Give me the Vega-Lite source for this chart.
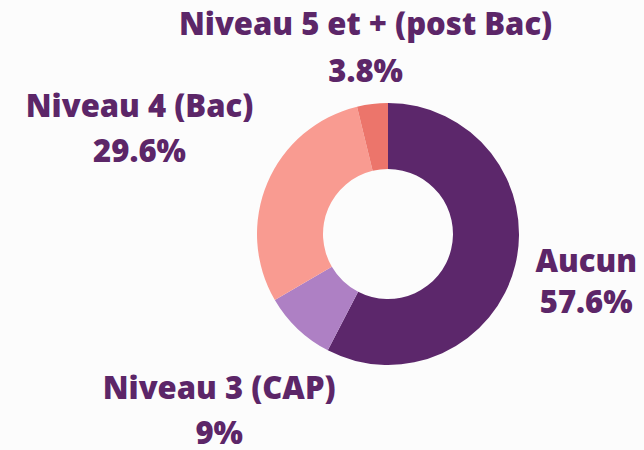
{
  "$schema": "https://vega.github.io/schema/vega-lite/v6.json",
  "autosize": {"type": "none"},
  "width": 512,
  "height": 432,
  "padding": {"left": 132, "top": 18, "right": 0, "bottom": 0},
  "background": "#fcfcfc",
  "config": {"view": {"stroke": null}, "text": {"font": "Open Sans", "fontWeight": 800, "fontSize": 31, "color": "#5c2668", "baseline": "middle"}},
  "data": {
    "values": [
      {"categorie": "Aucun", "pct": 0.576, "ordre": 1},
      {"categorie": "Niveau 3 (CAP)", "pct": 0.09, "ordre": 2},
      {"categorie": "Niveau 4 (Bac)", "pct": 0.296, "ordre": 3},
      {"categorie": "Niveau 5 et + (post Bac)", "pct": 0.038, "ordre": 4}
    ]
  },
  "encoding": {
    "theta": {"field": "pct", "type": "quantitative", "stack": true},
    "order": {"field": "ordre", "type": "quantitative"}
  },
  "layer": [
    {
      "mark": {"type": "arc", "radius": 131, "radius2": 65},
      "encoding": {
        "color": {
          "field": "categorie",
          "type": "nominal",
          "legend": null,
          "scale": {
            "domain": ["Aucun", "Niveau 3 (CAP)", "Niveau 4 (Bac)", "Niveau 5 et + (post Bac)"],
            "range": ["#5c276b", "#ae80c4", "#f99b91", "#ec756b"]
          }
        }
      }
    },
    {
      "mark": {"type": "text", "radius": 204, "dy": -19},
      "encoding": {"text": {"condition": {"test": "datum.categorie === 'Aucun'", "field": "categorie"}, "value": ""}}
    },
    {
      "mark": {"type": "text", "radius": 204, "dy": 22},
      "encoding": {"text": {"condition": {"test": "datum.categorie === 'Aucun'", "field": "pct", "type": "quantitative", "format": ".1~%"}, "value": ""}}
    },
    {
      "mark": {"type": "text", "radius": 245, "dy": -22},
      "encoding": {"text": {"condition": {"test": "datum.categorie === 'Niveau 3 (CAP)'", "field": "categorie"}, "value": ""}}
    },
    {
      "mark": {"type": "text", "radius": 245, "dy": 23.5},
      "encoding": {"text": {"condition": {"test": "datum.categorie === 'Niveau 3 (CAP)'", "field": "pct", "type": "quantitative", "format": ".1~%"}, "value": ""}}
    },
    {
      "mark": {"type": "text", "radius": 270, "dy": -20.5},
      "encoding": {"text": {"condition": {"test": "datum.categorie === 'Niveau 4 (Bac)'", "field": "categorie"}, "value": ""}}
    },
    {
      "mark": {"type": "text", "radius": 270, "dy": 24.5},
      "encoding": {"text": {"condition": {"test": "datum.categorie === 'Niveau 4 (Bac)'", "field": "pct", "type": "quantitative", "format": ".1~%"}, "value": ""}}
    },
    {
      "mark": {"type": "text", "radius": 188, "dy": -21.5},
      "encoding": {"text": {"condition": {"test": "datum.categorie === 'Niveau 5 et + (post Bac)'", "field": "categorie"}, "value": ""}}
    },
    {
      "mark": {"type": "text", "radius": 188, "dy": 25.5},
      "encoding": {"text": {"condition": {"test": "datum.categorie === 'Niveau 5 et + (post Bac)'", "field": "pct", "type": "quantitative", "format": ".1~%"}, "value": ""}}
    }
  ]
}
